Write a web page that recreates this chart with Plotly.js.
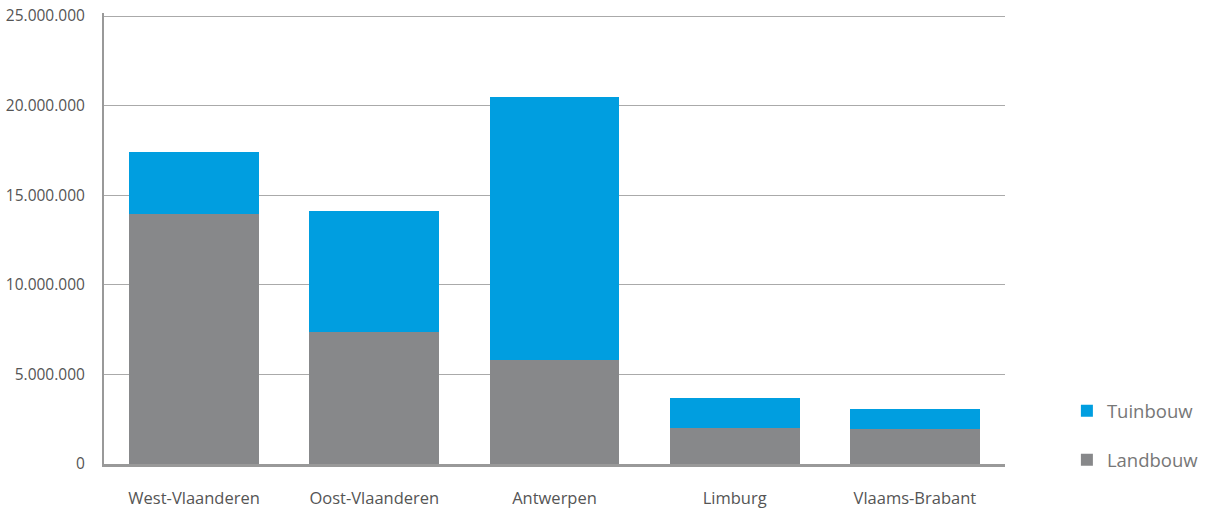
<!DOCTYPE html>
<html>
<head>
<meta charset="utf-8">
<script src="https://cdn.plot.ly/plotly-3.0.1.min.js"></script>
<style>
  html, body { margin: 0; padding: 0; background: #fff; }
  #plot { width: 1211px; height: 508px; }
</style>
</head>
<body>
<div id="plot"></div>
<script>
const provinces = ['West-Vlaanderen', 'Oost-Vlaanderen', 'Antwerpen', 'Limburg', 'Vlaams-Brabant'];
const landbouw = [13970000, 7370000, 5800000, 2010000, 1950000];
const tuinbouw = [3440000, 6750000, 14680000, 1670000, 1120000];
const yTicks = [0, 5000000, 10000000, 15000000, 20000000, 25000000];

const data = [
  {
    x: provinces,
    y: landbouw,
    type: 'bar',
    name: 'Landbouw',
    legendgroup: 'l',
    legendrank: 2,
    marker: { color: '#87888a' },
    hoverinfo: 'x+y+name'
  },
  {
    x: provinces,
    y: tuinbouw,
    type: 'bar',
    name: 'Tuinbouw',
    legendgroup: 't',
    legendrank: 1,
    marker: { color: '#009ee0' },
    hoverinfo: 'x+y+name'
  }
];

const layout = {
  width: 1211,
  height: 508,
  barmode: 'stack',
  bargap: 0.28,
  separators: ',.',
  font: { family: 'Open Sans, sans-serif', size: 15, color: '#555' },
  margin: { l: 104, r: 206, t: 13, b: 44 },
  plot_bgcolor: '#fff',
  paper_bgcolor: '#fff',
  xaxis: {
    showline: true,
    linecolor: '#999',
    linewidth: 3,
    ticks: 'outside',
    ticklen: 17,
    tickcolor: 'rgba(0,0,0,0)',
    tickfont: { size: 16.5, color: '#555' },
    automargin: false
  },
  yaxis: {
    range: [0, 25170000],
    tickvals: yTicks,
    tickformat: ',d',
    showline: true,
    linecolor: '#999',
    linewidth: 2,
    showgrid: true,
    gridcolor: '#aaa',
    gridwidth: 1.3,
    zeroline: false,
    ticks: 'outside',
    ticklen: 14,
    tickcolor: 'rgba(0,0,0,0)',
    tickfont: { size: 15.5, color: '#555' },
    automargin: false
  },
  showlegend: true,
  legend: {
    xref: 'container',
    yref: 'container',
    x: 0.881,
    xanchor: 'left',
    y: 0.228,
    yanchor: 'top',
    traceorder: 'grouped',
    tracegroupgap: 22,
    font: { size: 18.5, color: '#777' },
    itemwidth: 30
  }
};

Plotly.newPlot('plot', data, layout, { displayModeBar: false });
</script>
</body>
</html>
